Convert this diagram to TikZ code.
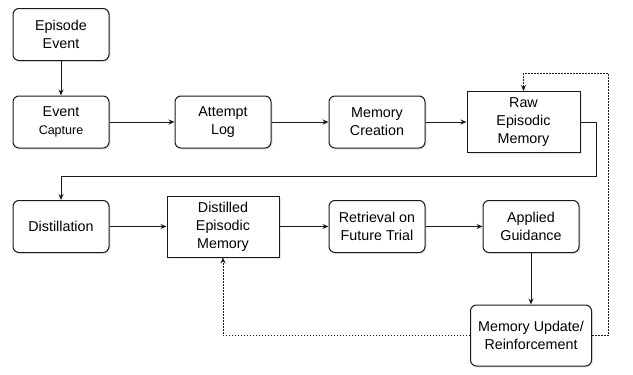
\documentclass[tikz,border=0pt]{standalone}
\usepackage{fontspec}
\setmainfont{Liberation Sans}
\usetikzlibrary{arrows.meta,shadows}

\tikzset{
  stagebox/.style={draw=black!90, line width=1pt, rounded corners=6pt, fill=white,
    minimum width=96pt, minimum height=52pt, align=center, inner sep=2pt,
    font=\fontsize{14.3}{18}\selectfont,
    drop shadow={opacity=0.18, shadow xshift=1.5pt, shadow yshift=-1.5pt}},
  memorybox/.style={stagebox, sharp corners, minimum width=113pt, minimum height=61pt},
  flow/.style={line width=1pt, draw=black!90, -{Stealth[length=6pt,width=5pt]}},
  feedback/.style={flow, line width=0.9pt, dash pattern=on 1.5pt off 1.5pt}
}

\begin{document}
\begin{tikzpicture}[x=1pt, y=-1pt]
    \useasboundingbox (0,0) rectangle (633,375);

    % capture row
    \node[stagebox] (episode) at (61,34.5) {Episode\\Event};
    \node[stagebox] (capture) at (61,122) {Event\\{\fontsize{12.5}{15}\selectfont Capture}};
    \node[stagebox] (attempt) at (223,122) {Attempt\\Log};
    \node[stagebox] (creation) at (377,122) {Memory\\Creation};
    \node[memorybox] (raw) at (523.5,122) {Raw\\Episodic\\Memory};

    % distillation and reuse row
    \node[stagebox] (distill) at (61,226.5) {Distillation};
    \node[memorybox, minimum width=112pt] (distilled) at (223,226.5) {Distilled\\Episodic\\Memory};
    \node[stagebox] (retrieval) at (377,226.5) {Retrieval on\\Future Trial};
    \node[stagebox] (applied) at (531,226.5) {Applied\\Guidance};
    \node[stagebox, minimum width=121pt, minimum height=61pt] (update) at (531,335.5) {Memory Update/\\Reinforcement};

    \coordinate (wrap) at (596,176);
    \coordinate (loop) at (608,73);

    % main flow
    \draw[flow] (episode) -- (capture);
    \draw[flow] (capture) -- (attempt);
    \draw[flow] (attempt) -- (creation);
    \draw[flow] (creation) -- (raw);
    \draw[flow] (raw.east) -| (wrap) -| (distill.north);
    \draw[flow] (distill) -- (distilled);
    \draw[flow] (distilled) -- (retrieval);
    \draw[flow] (retrieval) -- (applied);
    \draw[flow] (applied) -- (update);

    % feedback loops
    \draw[feedback] (update.east) -| (loop) -| (raw.north);
    \draw[feedback] (update.west) -| (distilled.south);
\end{tikzpicture}
\end{document}
